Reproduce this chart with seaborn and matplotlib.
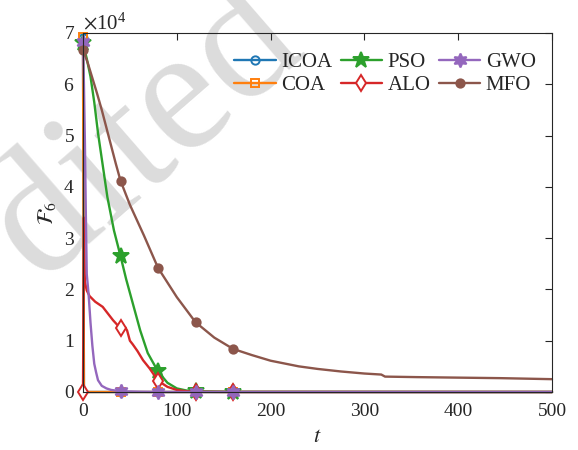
import matplotlib
matplotlib.use("Agg")
import matplotlib.pyplot as plt
from matplotlib.ticker import ScalarFormatter
import numpy as np
import pandas as pd
import seaborn as sns

sns.set_theme(style="white")
plt.rcParams['font.family'] = 'serif'
plt.rcParams['font.serif'] = ['Liberation Serif', 'DejaVu Serif']
plt.rcParams['mathtext.fontset'] = 'stix'

# ---------------- data (iteration t, fitness F6) ----------------
icoa_t = [0, 1, 40, 80, 120, 160, 500]
icoa_f = [69000, 0, 0, 0, 0, 0, 0]

coa_t = [0, 1, 40, 80, 120, 160, 500]
coa_f = [69200, 0, 0, 0, 0, 0, 0]

pso_t = [0, 4, 8, 12, 16, 20, 26, 33, 40, 46, 52, 61, 69, 80, 90, 100, 110, 120, 160, 500]
pso_f = [68000, 65000, 61500, 56500, 50500, 45500, 38000, 31500, 26500, 22000, 18000,
         12000, 7600, 4000, 1800, 700, 300, 150, 30, 0]

alo_t = [0, 1, 2, 4, 7, 13, 21, 32, 40, 43, 45, 47, 50, 53, 58, 64, 71, 80, 90, 100, 110, 120, 160, 500]
alo_f = [0, 34000, 21500, 19800, 18700, 17600, 16600, 14000, 12400, 12300, 12600, 12000,
         10000, 9300, 8000, 6200, 4600, 2200, 1000, 400, 150, 50, 10, 0]

gwo_t = [0, 1, 2, 3, 4, 6, 8, 10, 12, 14, 16, 20, 25, 30, 40, 60, 80, 120, 160, 500]
gwo_f = [68200, 60000, 49000, 35000, 23000, 19000, 13500, 9000, 5500, 3800, 2300, 1200,
         700, 400, 150, 50, 0, 0, 0, 0]

mfo_t = [0, 5, 10, 15, 20, 25, 30, 35, 40, 50, 65, 80, 100, 120, 140, 160, 180, 200, 230,
         250, 275, 300, 318, 322, 356, 400, 445, 500]
mfo_f = [66700, 64200, 61200, 58200, 55000, 51500, 48000, 44500, 41200, 36500, 30500, 24200,
         18500, 13600, 10600, 8400, 7200, 6100, 5000, 4500, 4000, 3600, 3400, 3000, 2900,
         2800, 2700, 2500]

names = ["ICOA", "COA", "PSO", "ALO", "GWO", "MFO"]
series_t = [icoa_t, coa_t, pso_t, alo_t, gwo_t, mfo_t]
series_f = [icoa_f, coa_f, pso_f, alo_f, gwo_f, mfo_f]
marker_t = [0, 40, 80, 120, 160]

colors = ["#1f77b4", "#ff7f0e", "#2ca02c", "#d62728", "#9467bd", "#8c564b"]
markers = ["o", "s", "*", "d", (6, 1, 0), "o"]
msizes = [6, 6, 12, 8, 10, 6]
mfaces = ["none", "none", None, "white", None, None]

fig = plt.figure(figsize=(5.78, 4.5), dpi=100)

# watermark (behind everything)
fig.text(0.252, 0.705, "dited", rotation=41, fontsize=128, color="#dcdcdc",
         ha="center", va="center", zorder=-5)

ax = fig.add_axes([0.1436, 0.1289, 0.8114, 0.7978])
ax.patch.set_alpha(0)

for name, t, f, c, m, ms, mf in zip(names, series_t, series_f, colors, markers, msizes, mfaces):
    df = pd.DataFrame({"t": t, "f": f})
    idx = [t.index(v) for v in marker_t]
    kw = dict(marker=m, markersize=ms, markevery=idx, markeredgewidth=1.4,
              markeredgecolor=c, linewidth=1.7, clip_on=False)
    kw["markerfacecolor"] = c if mf is None else mf
    sns.lineplot(data=df, x="t", y="f", color=c, label=name, ax=ax, **kw)

ax.set_xlim(0, 500)
ax.set_ylim(0, 70000)
ax.set_xticks([0, 100, 200, 300, 400, 500])
ax.set_yticks(np.arange(0, 70001, 10000))
fmt = ScalarFormatter(useMathText=True)
fmt.set_powerlimits((0, 0))
ax.yaxis.set_major_formatter(fmt)
ax.yaxis.get_offset_text().set_fontsize(15)
ax.yaxis.get_offset_text().set_color("#262626")

ax.tick_params(direction="in", top=True, right=True, length=5, width=0.8,
               colors="#262626", labelsize=14)
ax.tick_params(axis="x", pad=8)
ax.tick_params(axis="y", pad=6)
for s in ax.spines.values():
    s.set_color("#262626")
    s.set_linewidth(0.8)
    s.set_visible(True)

ax.set_xlabel("$t$", fontsize=16, labelpad=6, color="#262626")
ax.set_ylabel(r"$\mathcal{F}_6$", fontsize=16, labelpad=4, color="#262626")

leg = ax.legend(loc="upper right", bbox_to_anchor=(0.974, 0.958), ncol=3, frameon=False,
                fontsize=15, handlelength=2.0, handletextpad=0.25, columnspacing=0.4,
                labelspacing=0.18, borderpad=0.2, borderaxespad=0)

fig.savefig("out.png", dpi=100)
